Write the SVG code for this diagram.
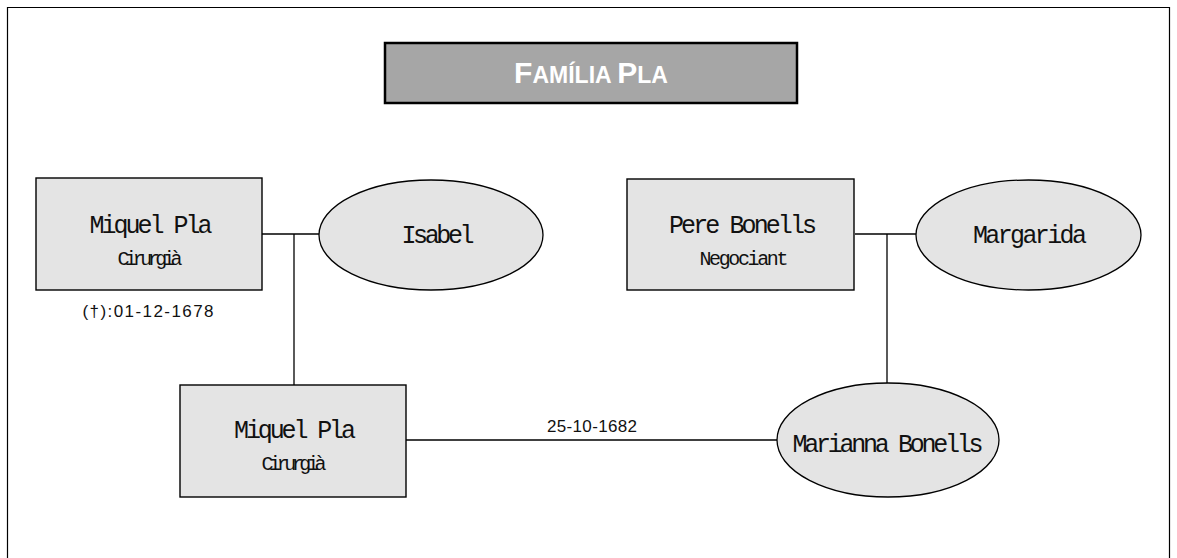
<svg xmlns="http://www.w3.org/2000/svg" width="1177" height="558" viewBox="0 0 1177 558">
<style>
.box{fill:#e4e4e4;stroke:#000;stroke-width:1.4}
.ell{fill:#e4e4e4;stroke:#000;stroke-width:1.3}
.name{font-family:"Liberation Mono","DejaVu Sans Mono",monospace;font-size:25px;fill:#111;text-anchor:middle}
.sub{font-family:"Liberation Mono","DejaVu Sans Mono",monospace;font-size:20px;fill:#111;text-anchor:middle}
.lbl{font-family:"Liberation Sans",Arial,sans-serif;font-size:17px;fill:#111;text-anchor:middle}
.con line{stroke:#000;stroke-width:1.3}
</style>
<rect x="0" y="0" width="1177" height="558" fill="#fff"/>
<path d="M7.5 570 V7.5 H1169.5 V570" fill="none" stroke="#000" stroke-width="1.2"/>
<g id="title">
<rect x="385" y="43" width="412" height="60" fill="#a6a6a6" stroke="#000" stroke-width="2.5"/>
<text x="591" y="83" font-family="'Liberation Sans',Arial,sans-serif" font-weight="bold" fill="#fff" text-anchor="middle"><tspan font-size="30">F</tspan><tspan font-size="23">AMÍLIA </tspan><tspan font-size="30">P</tspan><tspan font-size="23">LA</tspan></text>
</g>
<g class="con" id="connectors">
<line x1="262" y1="234" x2="319" y2="234"/>
<line x1="294" y1="234" x2="294" y2="385"/>
<line x1="855" y1="234" x2="916" y2="234"/>
<line x1="887" y1="234" x2="887" y2="383"/>
<line x1="406" y1="440" x2="777" y2="440"/>
<text class="lbl" x="592" y="432" textLength="90">25-10-1682</text>
</g>
<g id="miquel1">
<rect class="box" x="36" y="178" width="226" height="112"/>
<text class="name" x="151" y="233" textLength="123">Miquel Pla</text>
<text class="sub" x="150" y="265" textLength="65">Cirurgià</text>
<text class="lbl" x="148" y="317" textLength="131">(†):01-12-1678</text>
</g>
<g id="isabel">
<ellipse class="ell" cx="431" cy="235" rx="112" ry="55"/>
<text class="name" x="438" y="243" textLength="73">Isabel</text>
</g>
<g id="pere">
<rect class="box" x="627" y="179" width="227" height="111"/>
<text class="name" x="743" y="233" textLength="148">Pere Bonells</text>
<text class="sub" x="744" y="265" textLength="89">Negociant</text>
</g>
<g id="margarida">
<ellipse class="ell" cx="1028.5" cy="235" rx="112.5" ry="55"/>
<text class="name" x="1030" y="243" textLength="114">Margarida</text>
</g>
<g id="miquel2">
<rect class="box" x="180" y="385" width="226" height="112"/>
<text class="name" x="295" y="438" textLength="122">Miquel Pla</text>
<text class="sub" x="294" y="470" textLength="65">Cirurgià</text>
</g>
<g id="marianna">
<ellipse class="ell" cx="888" cy="440" rx="111" ry="57"/>
<text class="name" x="888" y="452" textLength="191">Marianna Bonells</text>
</g>
</svg>
